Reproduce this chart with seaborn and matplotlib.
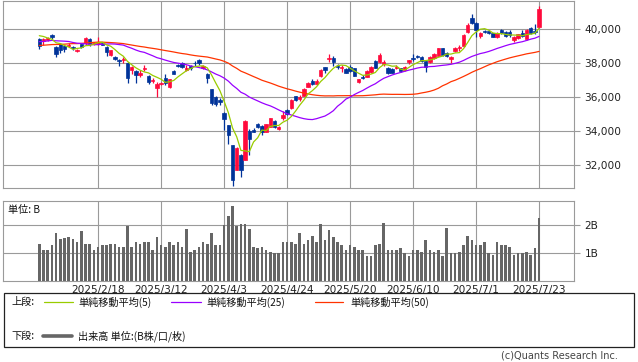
import numpy as np
import pandas as pd
import matplotlib
matplotlib.use("Agg")
import matplotlib.pyplot as plt
import seaborn as sns
from matplotlib.patches import Rectangle
from matplotlib.lines import Line2D

# ---------------- data ----------------
jp_holidays = ["2025-02-11", "2025-02-24", "2025-03-20", "2025-04-29",
               "2025-05-05", "2025-05-06", "2025-07-21"]
dates = pd.bdate_range("2025-01-28", "2025-07-23", freq="C", holidays=jp_holidays)

tick_labels = ["2025/2/18", "2025/3/12", "2025/4/3", "2025/4/24",
               "2025/5/20", "2025/6/10", "2025/7/1", "2025/7/23"]

# closes of the 49 sessions before the first candle (feed the moving averages)
prior_close = [38721, 38536, 38642, 38220, 38414, 38352, 38026, 38283, 38780, 38442,
               38134, 38349, 38208,
               38513, 39248, 39276, 39395, 39091, 39160, 39367, 39372, 39849, 39470,
               39457, 39364, 39081, 38813, 38701, 39161, 39036, 39130, 39568, 40281,
               39894,
               39307, 40083, 39981, 39605, 39190, 38474, 38444, 38572, 38451, 38902,
               39027, 39646, 39958, 39931, 39565]

open_ = [39430, 39290, 39350, 39650, 38960, 39118, 39035, 38990, 38960, 38700,
         39118, 39176, 39412, 39150, 39118, 39212, 38977, 38490, 38390, 38200,
         38200, 38000, 37606, 37565, 37330, 37647, 37253, 36977, 36565, 36765,
         37118, 36588, 37530, 37900, 38000, 37600, 37840, 38040, 38200, 37706,
         37370, 36470, 36035, 35860, 35095, 34370, 33195, 31750, 32606, 32312,
         34035, 34050, 34412, 34310, 33977, 34270, 34606, 34118, 34760, 35253,
         35353, 36077, 35880, 36077, 36624, 36977, 36782, 37253, 37770, 38250,
         38300, 37850, 37706, 37650, 37770, 37706, 36918, 37210, 37212, 37506,
         38135, 38059, 37930, 37706, 37650, 37700, 37700, 37606, 38059, 38330,
         38420, 38390, 38135, 38059, 38294, 38447, 38882, 38588, 38235, 38741,
         38900, 39035, 39860, 40647, 40388, 39606, 39880, 39880, 39760, 39530,
         39959, 39860, 39860, 39370, 39470, 39765, 39412, 40059, 39880, 40118]
high = [39510, 39500, 39560, 39720, 38990, 39180, 39080, 39180, 39000, 38850,
        39150, 39560, 39506, 39260, 39530, 39280, 39000, 38800, 38450, 38260,
        38350, 38050, 37860, 37600, 37606, 37900, 37300, 37150, 36900, 36920,
        37370, 37100, 37580, 37960, 38070, 37900, 37900, 38150, 38280, 37900,
        37400, 36500, 36100, 35940, 35150, 34400, 33200, 33100, 32650, 34665,
        34150, 34200, 34500, 34350, 34450, 34800, 34650, 34300, 35200, 35300,
        35900, 36100, 36150, 36520, 36900, 37050, 37050, 37650, 37800, 38550,
        38420, 37950, 37900, 37700, 37880, 37750, 37100, 37300, 37580, 37850,
        38200, 38600, 38200, 37800, 37720, 37900, 37750, 37850, 38200, 38530,
        38500, 38450, 38150, 38420, 38600, 38900, 38920, 38650, 38420, 38960,
        39050, 39700, 40350, 40900, 40420, 39870, 39950, 39920, 39800, 39820,
        40000, 39900, 39950, 39590, 39750, 39960, 40000, 40150, 40312, 41370]
low = [38860, 39076, 39300, 39440, 38390, 38620, 38680, 38950, 38800, 38640,
       38900, 39100, 39035, 39090, 39080, 39050, 38430, 38420, 38180, 37850,
       38000, 36860, 37370, 36824, 37177, 37565, 36800, 36824, 36000, 36700,
       36706, 36550, 37350, 37800, 37710, 37550, 37600, 37850, 37880, 37650,
       36860, 35560, 35500, 35547, 34076, 33253, 30782, 31700, 31294, 32300,
       32606, 33950, 34200, 33800, 33950, 34250, 34200, 34050, 34680, 34950,
       35300, 35780, 35760, 36050, 36580, 36700, 36750, 37200, 37450, 38100,
       37850, 37650, 37500, 37400, 37500, 37250, 36850, 37050, 37180, 37450,
       37700, 38000, 37850, 37380, 37400, 37650, 37500, 37550, 37950, 38150,
       38300, 38100, 37506, 38000, 38250, 38400, 38450, 38350, 38000, 38650,
       38700, 38950, 39800, 40300, 39530, 39470, 39780, 39700, 39530, 39500,
       39700, 39550, 39530, 39280, 39400, 39530, 39350, 39700, 39700, 40060]
close = [39016, 39414, 39513, 39572, 38520, 38798, 38831, 39066, 38880, 38801,
         38950, 39480, 39149, 39220, 39270, 39090, 38678, 38776, 38237, 38142,
         38256, 37155, 37785, 37331, 37440, 37740, 36887, 37028, 36793, 36860,
         36824, 37077, 37396, 37845, 37765, 37720, 37700, 38000, 38000, 37840,
         37118, 35647, 35624, 35725, 34735, 33780, 31136, 33012, 31714, 34609,
         33530, 33982, 34270, 33977, 34430, 34760, 34270, 34270, 34950, 35018,
         35840, 35840, 36035, 36470, 36824, 36782, 36977, 37606, 37600, 38290,
         38060, 37755, 37780, 37450, 37530, 37270, 37059, 37150, 37547, 37800,
         37741, 38488, 38060, 37412, 37446, 37800, 37554, 37800, 38194, 38250,
         38390, 38153, 37800, 38390, 38547, 38882, 38490, 38403, 38390, 38882,
         38960, 39665, 40250, 40388, 39960, 39760, 39830, 39810, 39565, 39760,
         39765, 39606, 39650, 39530, 39706, 39606, 39959, 39765, 39820, 41176]
volume_b = [1.34, 1.12, 1.09, 1.27, 1.71, 1.49, 1.54, 1.56, 1.52, 1.39,
            1.78, 1.34, 1.34, 1.12, 1.20, 1.27, 1.27, 1.34, 1.34, 1.23,
            1.23, 1.96, 1.20, 1.41, 1.34, 1.41, 1.38, 1.12, 1.56, 1.30,
            1.23, 1.38, 1.27, 1.38, 1.20, 1.85, 1.05, 1.09, 1.20, 1.41,
            1.34, 1.71, 1.27, 1.30, 2.00, 2.33, 2.70, 1.96, 2.04, 2.04,
            1.85, 1.20, 1.16, 1.20, 1.12, 1.05, 1.01, 1.01, 1.38, 1.41,
            1.38, 1.34, 1.71, 1.34, 1.45, 1.60, 1.41, 2.04, 1.45, 1.82,
            1.56, 1.38, 1.30, 1.09, 1.27, 1.23, 1.12, 1.09, 0.90, 0.87,
            1.27, 1.34, 2.07, 1.12, 1.12, 1.09, 1.16, 1.01, 0.87, 1.09,
            1.12, 1.05, 1.45, 1.09, 1.05, 1.12, 0.90, 1.89, 0.98, 0.98,
            1.05, 1.27, 1.60, 1.45, 1.27, 1.30, 1.38, 0.98, 0.94, 1.38,
            1.30, 1.30, 1.20, 0.94, 1.01, 1.01, 1.05, 0.94, 1.16, 2.26]
ma_windows = [5, 25, 50]
ma_labels = ["単純移動平均(5)", "単純移動平均(25)", "単純移動平均(50)"]

# ---------------- style ----------------
RED = "#ff0a3c"
BLUE = "#003399"
MA_COLORS = ["#99cc00", "#9900ff", "#ff3300"]
GRID = "#9a9a9a"
VOLC = "#666666"

sns.set_style("white")
plt.rcParams["font.family"] = ["DejaVu Sans"]
JP = ["Noto Sans CJK JP", "DejaVu Sans"]

W, H = 638, 362
fig = plt.figure(figsize=(W / 100, H / 100), dpi=100)


def box(l, t, r, b):
    return [l / W, 1 - b / H, (r - l) / W, (b - t) / H]


ax1 = fig.add_axes(box(3.3, 0.7, 574, 188))
ax2 = fig.add_axes(box(3.3, 201, 574, 280.5))

n = len(close)
x = np.arange(n)
O, Hh, L, C = map(np.array, (open_, high, low, close))
colors = np.where(C >= O, RED, BLUE)

# moving averages
all_close = pd.Series(prior_close + close, dtype=float)
df = pd.DataFrame({"x": x})
for w in ma_windows:
    df[f"ma{w}"] = all_close.rolling(w).mean().to_numpy()[len(prior_close):]

# candles
ax1.vlines(x, L, Hh, colors=colors, lw=0.9, zorder=3)
ax1.bar(x, np.abs(C - O), bottom=np.minimum(O, C), width=0.78, color=colors,
        edgecolor=colors, linewidth=0.5, zorder=3)
for w, col in zip(ma_windows[::-1], MA_COLORS[::-1]):
    sns.lineplot(data=df, x="x", y=f"ma{w}", color=col, lw=0.9, ax=ax1, zorder=4)

# volume
sns.barplot(x=x, y=volume_b, native_scale=True, width=0.6, color=VOLC,
            saturation=1, errorbar=None, linewidth=0, ax=ax2, zorder=3)

# ticks / grids
date_str = [f"{d.year}/{d.month}/{d.day}" for d in dates]
tick_pos = [date_str.index(t) for t in tick_labels]
xlim = (-8.57, 127.3)
for ax in (ax1, ax2):
    ax.set_xlim(*xlim)
    ax.set_xticks(tick_pos)
    ax.grid(True, axis="both", color=GRID, lw=0.8, zorder=0)
    ax.set_axisbelow(True)
    for s in ax.spines.values():
        s.set_color(GRID)
        s.set_linewidth(0.8)
    ax.set_xlabel("")
    ax.set_ylabel("")
    ax.yaxis.tick_right()
    ax.tick_params(axis="y", which="both", right=True, left=False, length=4.5,
                   width=0.8, color=GRID, pad=3, labelsize=7.6, labelcolor="#222222")
    ax.tick_params(axis="x", length=0, pad=3, labelsize=7.6, labelcolor="#222222")

ax1.set_ylim(30665, 41682)
yt = [32000, 34000, 36000, 38000, 40000]
ax1.set_yticks(yt)
ax1.set_yticklabels([f"{v:,}" for v in yt])
ax1.set_xticklabels([])

ax2.set_ylim(0, 2.88)
ax2.set_yticks([1, 2])
ax2.set_yticklabels(["1B", "2B"])
ax2.set_xticklabels(tick_labels)
ax2.text(5 / 571, 0.89, "単位: B", transform=ax2.transAxes, fontsize=7.3,
         family=JP, va="center", ha="left", color="#111111")

# ---------------- legend box ----------------
def fx(px):
    return px / W


def fy(py):
    return 1 - py / H


fig.add_artist(Rectangle((fx(3.5), fy(347)), fx(634) - fx(3.5), fy(293) - fy(347),
                         transform=fig.transFigure, fill=False, ec="#222222", lw=0.9))
row1, row2 = 302, 336
fig.text(fx(11), fy(row1), "上段:", family=JP, fontsize=7.3, va="center", color="#111111")
fig.text(fx(11), fy(row2), "下段:", family=JP, fontsize=7.3, va="center", color="#111111")
seg = [(44, 73, 78), (171, 201, 206), (315, 343, 350)]
for (a, b, t), col, lab in zip(seg, MA_COLORS, ma_labels):
    fig.add_artist(Line2D([fx(a), fx(b)], [fy(row1), fy(row1)], color=col, lw=0.9,
                          transform=fig.transFigure))
    fig.text(fx(t), fy(row1), lab, family=JP, fontsize=7.3, va="center", color="#111111")
fig.add_artist(Line2D([fx(43), fx(72)], [fy(row2), fy(row2)], color=VOLC, lw=2.6,
                      transform=fig.transFigure))
fig.text(fx(78), fy(row2), "出来高 単位:(B株/口/枚)", family=JP, fontsize=7.3,
         va="center", color="#111111")
fig.text(fx(618), fy(356), "(c)Quants Research Inc.", fontsize=7.0, ha="right",
         va="center", color="#444444")

fig.savefig("out.png", dpi=100)
